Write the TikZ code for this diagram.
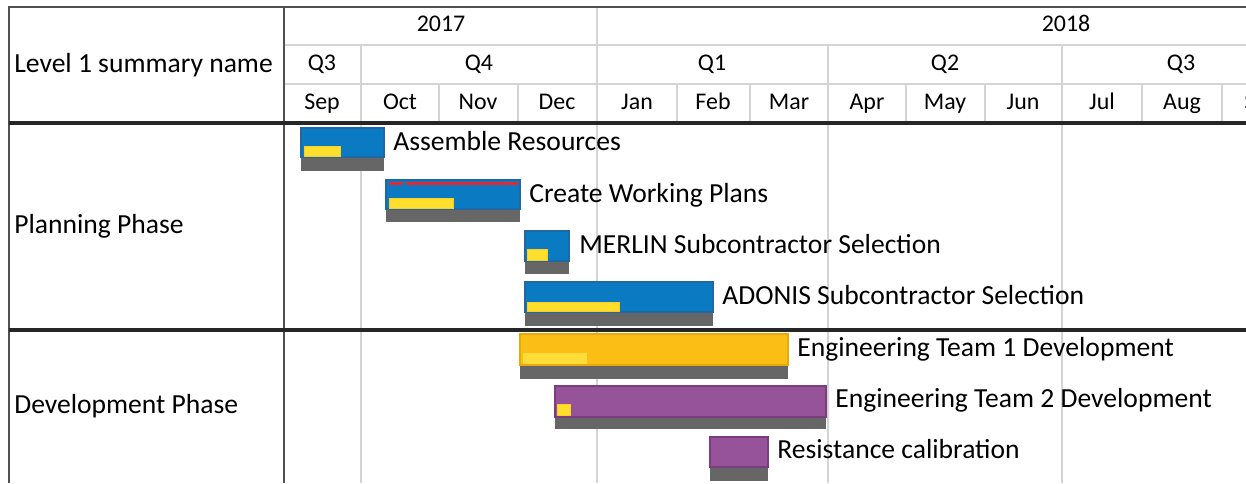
\documentclass[tikz,border=0pt]{standalone}
\usepackage{fontspec}
\setmainfont{Carlito}

\definecolor{gridgray}{HTML}{D4D4D4}
\definecolor{framegray}{HTML}{505050}
\definecolor{basegray}{HTML}{666666}
\definecolor{planblue}{HTML}{0A7BC2}
\definecolor{planblueline}{HTML}{1F68A3}
\definecolor{devorange}{HTML}{FBBE14}
\definecolor{devorangeline}{HTML}{E9A80E}
\definecolor{devpurple}{HTML}{96539A}
\definecolor{devpurpleline}{HTML}{7A3D7F}
\definecolor{doneyellow}{HTML}{FFDF2E}
\definecolor{lateyellow}{HTML}{FFDD38}
\definecolor{slipred}{HTML}{E02935}

\begin{document}
\begin{tikzpicture}[
  x=0.02cm, y=-0.02cm,
  grid/.style={draw=gridgray, line width=0.8pt},
  frame/.style={draw=framegray, line width=1.2pt},
  split/.style={draw=black!85, line width=2pt},
  head/.style={anchor=base, inner sep=0pt, font=\fontsize{13.6}{16}\selectfont},
  rowname/.style={anchor=base west, inner sep=0pt, font=\fontsize{15.7}{18}\selectfont},
  tasklabel/.style={anchor=base west, inner sep=0pt, font=\fontsize{15.7}{18}\selectfont},
  base/.style={fill=basegray},
  planbar/.style={fill=planblue, draw=planblueline, line width=0.6pt},
  orangebar/.style={fill=devorange, draw=devorangeline, line width=0.6pt},
  purplebar/.style={fill=devpurple, draw=devpurpleline, line width=0.8pt},
  progress/.style={fill=doneyellow, draw=doneyellow!80!orange, line width=0.3pt}
]
\useasboundingbox (0,0) rectangle (1246,483);
\clip (0,0) rectangle (1246,483);

% header grid
\draw[grid] (284,45) -- (1246,45);
\draw[grid] (284,84) -- (1246,84);
\foreach \mx in {439,518,677,750,906,985,1142,1222}
  \draw[grid] (\mx,84) -- (\mx,123);
\foreach \qx in {361,828,1062}
  \draw[grid] (\qx,45) -- (\qx,483);
\draw[grid] (597,7) -- (597,483);

% header texts
\node[head] (y17) at (441,32) {2017};
\node[head] (y18) at (1066,32) {2018};
\node[head] (q3a) at (322,71) {Q3};
\node[head] (q4) at (479,71) {Q4};
\node[head] (q1) at (712,71) {Q1};
\node[head] (q2) at (945,71) {Q2};
\node[head] (q3b) at (1181,71) {Q3};
\foreach \m/\cx [count=\i] in {Sep/322, Oct/400, Nov/478, Dec/557, Jan/637,
    Feb/713, Mar/789, Apr/867, May/945, Jun/1023, Jul/1102, Aug/1182, Sep/1262}
  \node[head] (m\i) at (\cx,110) {\m};
\node[rowname] (title) at (14,72) {Level 1 summary name};

% row names
\node[rowname] (plan) at (14,233) {Planning Phase};
\node[rowname] (dev) at (14,413) {Development Phase};

% planning tasks
\fill[base] (301,157) rectangle (384,171);
\draw[planbar] (301,128) rectangle (384,157);
\draw[progress] (304,146) rectangle (340,156);
\node[tasklabel] (t1) at (393,150) {Assemble Resources};

\fill[base] (386,209) rectangle (520,222);
\draw[planbar] (386,180) rectangle (520,209);
\fill[slipred] (389,182) rectangle (403,185);
\fill[slipred] (406,182) rectangle (518,185);
\draw[progress] (389,198) rectangle (453,208);
\node[tasklabel] (t2) at (529,202) {Create Working Plans};

\fill[base] (525,261) rectangle (569,274);
\draw[planbar] (525,231) rectangle (569,261);
\draw[progress] (527,249) rectangle (547,260);
\node[tasklabel] (t3) at (579,253) {MERLIN Subcontractor Selection};

\fill[base] (525,312) rectangle (713,326);
\draw[planbar] (525,282) rectangle (713,312);
\draw[progress] (527,302) rectangle (619,311);
\node[tasklabel] (t4) at (722,304) {ADONIS Subcontractor Selection};

% development tasks
\fill[base] (520,365) rectangle (788,379);
\draw[orangebar] (520,334) rectangle (788,365);
\fill[lateyellow] (523,353) rectangle (587,364);
\node[tasklabel] (t5) at (797,356) {Engineering Team 1 Development};

\fill[base] (555,417) rectangle (826,429);
\draw[purplebar] (555,386) rectangle (826,417);
\draw[progress] (557,404) rectangle (570,415);
\node[tasklabel] (t6) at (835,407) {Engineering Team 2 Development};

\fill[base] (710,467) rectangle (768,481);
\draw[purplebar] (710,437) rectangle (768,467);
\node[tasklabel] (t7) at (777,458) {Resistance calibration};

% frame and phase split
\draw[frame] (9,483) -- (9,7) -- (1246,7);
\draw[frame] (284,7) -- (284,483);
\draw[split] (9,123) -- (1246,123);
\draw[split] (9,330) -- (1246,330);
\end{tikzpicture}
\end{document}
